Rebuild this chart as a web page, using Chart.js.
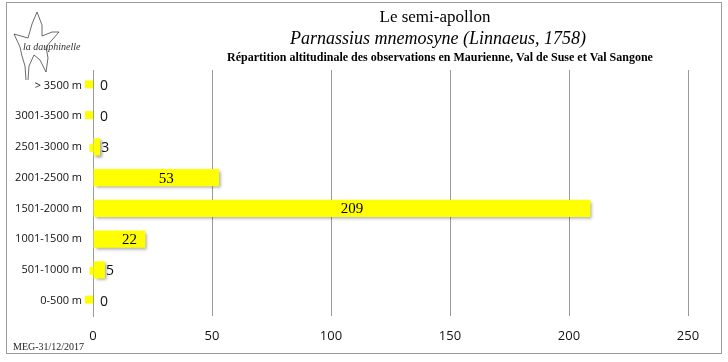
<!DOCTYPE html>
<html><head><meta charset="utf-8">
<script src="https://cdn.jsdelivr.net/npm/chart.js@4"></script>
<style>html,body{margin:0;padding:0;background:#fff}#wrap{width:728px;height:362px}</style>
</head><body><div id="wrap"><canvas id="c" width="728" height="362"></canvas></div>
<script>
const categories = ['> 3500 m','3001-3500 m','2501-3000 m','2001-2500 m','1501-2000 m','1001-1500 m','501-1000 m','0-500 m'];
const observations = [0,0,3,53,209,22,5,0];
const xTicks = [0,50,100,150,200,250];
const titleLines = ['Le semi-apollon','Parnassius mnemosyne (Linnaeus, 1758)','Répartition altitudinale des observations en Maurienne, Val de Suse et Val Sangone'];
const footer = 'MEG-31/12/2017';
const logoText = 'la dauphinelle';

const framePlugin = {
  id:'frame',
  beforeDraw(chart){
    const ctx = chart.ctx;
    ctx.save();
    ctx.fillStyle='#fff';ctx.fillRect(0,0,chart.width,chart.height);
    ctx.strokeStyle='#9a9a9a';ctx.lineWidth=1;
    ctx.strokeRect(6.5,2.5,715,351);
    // titles
    ctx.fillStyle='#000';ctx.textAlign='center';ctx.textBaseline='middle';
    ctx.font='17px "Liberation Serif", serif';
    ctx.fillText(titleLines[0],435,18);
    ctx.font='italic 18px "Liberation Serif", serif';
    ctx.fillText(titleLines[1],438,39);
    ctx.font='bold 12px "Liberation Serif", serif';
    ctx.fillText(titleLines[2],440,58);
    // footer
    ctx.textAlign='left';ctx.fillStyle='#222';
    ctx.font='10px "Liberation Serif", serif';
    ctx.fillText(footer,13,347);
    // logo
    ctx.strokeStyle='#444';ctx.lineWidth=0.8;
    ctx.beginPath();
    ctx.moveTo(26,80);ctx.lineTo(25,66);ctx.lineTo(22,56);ctx.lineTo(20,47);ctx.lineTo(14,34);ctx.lineTo(28,38);
    ctx.lineTo(32,24);ctx.lineTo(37,12);ctx.lineTo(42,25);ctx.lineTo(42,36);
    ctx.lineTo(52,32);ctx.lineTo(59,32);ctx.lineTo(52,40);ctx.lineTo(46,47);
    ctx.lineTo(48,58);ctx.lineTo(46,72);ctx.lineTo(40,60);ctx.lineTo(34,55);
    ctx.lineTo(29,66);ctx.lineTo(28,80);
    ctx.stroke();
    ctx.fillStyle='#333';
    ctx.font='italic 10px "Liberation Serif", serif';
    ctx.fillText(logoText,23,47);
    ctx.restore();
  }
};

const shadowPlugin = {
  id:'shadow',
  beforeDatasetsDraw(chart){
    const ctx=chart.ctx;ctx.save();
    ctx.shadowColor='rgba(0,0,0,0.35)';ctx.shadowOffsetX=2;ctx.shadowOffsetY=2;ctx.shadowBlur=3;
  },
  afterDatasetsDraw(chart){
    const ctx=chart.ctx;ctx.restore();
    const meta=chart.getDatasetMeta(0);
    ctx.save();
    meta.data.forEach((bar,i)=>{
      const v=observations[i];
      const base=bar.base;
      if(v<10){
        ctx.fillStyle='#ffff00';
        const w=v===0?8:4;
        ctx.fillRect(base-w,bar.y-(v===0?5:3),w,8);
      }
      ctx.fillStyle='#000';ctx.textBaseline='middle';
      if(bar.x-base>40){
        ctx.textAlign='center';
        ctx.font='15px "Liberation Serif", serif';
        ctx.fillText(String(v),(bar.x+base)/2+10,bar.y+1);
      } else {
        ctx.textAlign='left';
        ctx.font='14px "Open Sans", "Liberation Sans", sans-serif';
        ctx.fillStyle='#111';
        ctx.fillText(String(v),Math.max(bar.x+1,base+7),bar.y+1);
      }
    });
    ctx.restore();
  }
};

new Chart(document.getElementById('c'),{
  type:'bar',
  data:{labels:categories,datasets:[{data:observations,backgroundColor:'#ffff00',borderWidth:0,barPercentage:0.56,categoryPercentage:1}]},
  options:{
    indexAxis:'y',responsive:false,animation:false,devicePixelRatio:1,
    layout:{padding:{left:0,top:70,right:40,bottom:0}},
    plugins:{legend:{display:false},tooltip:{enabled:false},title:{display:false}},
    scales:{
      x:{min:0,max:250,
        afterBuildTicks(s){s.ticks=xTicks.map(v=>({value:v}));},
        afterFit(s){s.height=46;},
        grid:{color:'#9a9a9a',drawTicks:false,lineWidth:1},
        border:{display:false},
        ticks:{padding:12,color:'#111',font:{family:'"Open Sans", "Liberation Sans", sans-serif',size:13}}
      },
      y:{
        afterFit(s){s.width=93;},
        grid:{display:false,drawTicks:false},
        border:{display:true,color:'#9a9a9a'},
        ticks:{padding:11,color:'#111',font:{family:'"Open Sans", "Liberation Sans", sans-serif',size:11}}
      }
    }
  },
  plugins:[framePlugin,shadowPlugin]
});
</script></body></html>
